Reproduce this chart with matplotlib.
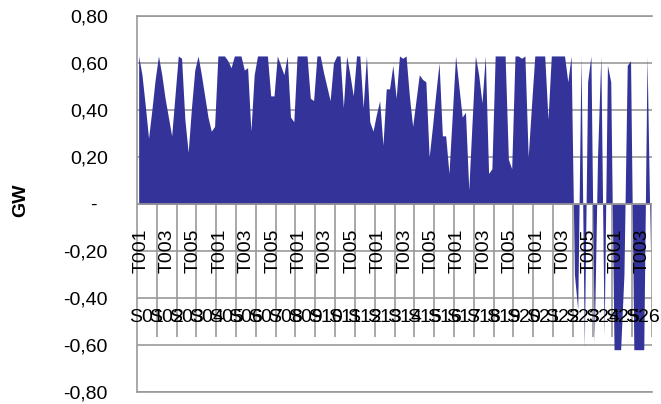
import matplotlib.pyplot as plt
import numpy as np

# categorias del eje x (dos niveles)
semanas = ['S%02d' % k for k in range(1, 27)]
tramos = ['T001', 'T002', 'T003', 'T004', 'T005', 'T006']

# GW por semana (6 tramos cada una)
gw = [
    0.63, 0.55, 0.42, 0.28, 0.40, 0.53,   # S01
    0.63, 0.55, 0.45, 0.37, 0.29, 0.46,   # S02
    0.63, 0.62, 0.36, 0.22, 0.41, 0.57,   # S03
    0.63, 0.55, 0.46, 0.37, 0.31, 0.33,   # S04
    0.63, 0.63, 0.63, 0.61, 0.58, 0.63,   # S05
    0.63, 0.63, 0.57, 0.58, 0.31, 0.55,   # S06
    0.63, 0.63, 0.63, 0.63, 0.46, 0.46,   # S07
    0.63, 0.59, 0.55, 0.63, 0.37, 0.35,   # S08
    0.63, 0.63, 0.63, 0.63, 0.45, 0.44,   # S09
    0.63, 0.63, 0.56, 0.50, 0.44, 0.60,   # S10
    0.63, 0.63, 0.41, 0.63, 0.55, 0.46,   # S11
    0.63, 0.63, 0.41, 0.63, 0.35, 0.31,   # S12
    0.38, 0.44, 0.25, 0.49, 0.49, 0.59,   # S13
    0.45, 0.63, 0.62, 0.63, 0.46, 0.33,   # S14
    0.44, 0.55, 0.53, 0.52, 0.20, 0.33,   # S15
    0.47, 0.60, 0.29, 0.29, 0.13, 0.38,   # S16
    0.63, 0.50, 0.37, 0.39, 0.06, 0.35,   # S17
    0.63, 0.55, 0.43, 0.63, 0.13, 0.15,   # S18
    0.63, 0.63, 0.63, 0.63, 0.19, 0.15,   # S19
    0.63, 0.63, 0.62, 0.63, 0.20, 0.42,   # S20
    0.63, 0.63, 0.63, 0.63, 0.36, 0.63,   # S21
    0.63, 0.63, 0.63, 0.63, 0.52, 0.63,   # S22
    -0.30, -0.45, 0.63, -0.61, 0.52, 0.63,  # S23
    -0.59, 0.20, 0.63, -0.56, 0.59, 0.52,   # S24
    -0.62, -0.62, -0.62, -0.30, 0.59, 0.61, # S25
    -0.62, -0.62, -0.62, -0.62, 0.63, -0.20, # S26
]
yticks = [-0.8, -0.6, -0.4, -0.2, 0.0, 0.2, 0.4, 0.6, 0.8]

plt.rcParams['font.family'] = ['Liberation Sans', 'DejaVu Sans']
gris = '#999999'
fs = 14

fig = plt.figure(figsize=(6.61, 4.04), dpi=100)
ax = fig.add_axes([137/661, 1 - 392/404, 515/661, 376/404])

x = np.arange(len(gw))
ax.fill_between(x, gw, 0, color='#333399', lw=0, zorder=3)
ax.set_xlim(-0.5, len(gw) - 0.5)
ax.set_ylim(-0.8, 0.8)

ax.set_yticks(yticks)
ax.set_yticklabels(['-  ' if v == 0 else ('%.2f' % v).replace('.', ',') for v in yticks])
ax.set_xticks([])
ax.tick_params(axis='y', length=0, pad=21, labelsize=fs)
ax.grid(axis='y', color=gris, lw=1.2, zorder=0)
ax.set_axisbelow(True)
for s in ['left', 'top', 'bottom']:
    ax.spines[s].set_color(gris)
    ax.spines[s].set_linewidth(1.2)
ax.spines['right'].set_visible(False)

# divisiones entre semanas y linea del eje
n = len(tramos)
ax.vlines(np.arange(n, len(gw) + 1, n) - 0.5, 0, -0.566, color=gris, lw=1.2, zorder=1)
ax.axhline(0, color=gris, lw=1.2, zorder=4)

# etiquetas de categorias
for i in range(0, len(gw), 8):
    ax.text(i + 0.6, -0.20, tramos[i % n], rotation=90, ha='center', va='center',
            fontsize=fs, zorder=5)
for k, s in enumerate(semanas):
    ax.text(n * k + (n - 1) / 2, -0.485, s, ha='center', va='center',
            fontsize=fs, zorder=5)

fig.text(0.032, 0.505, 'GW', rotation=90, fontweight='bold', fontsize=fs,
         ha='center', va='center')

plt.savefig('out.png', dpi=100)
